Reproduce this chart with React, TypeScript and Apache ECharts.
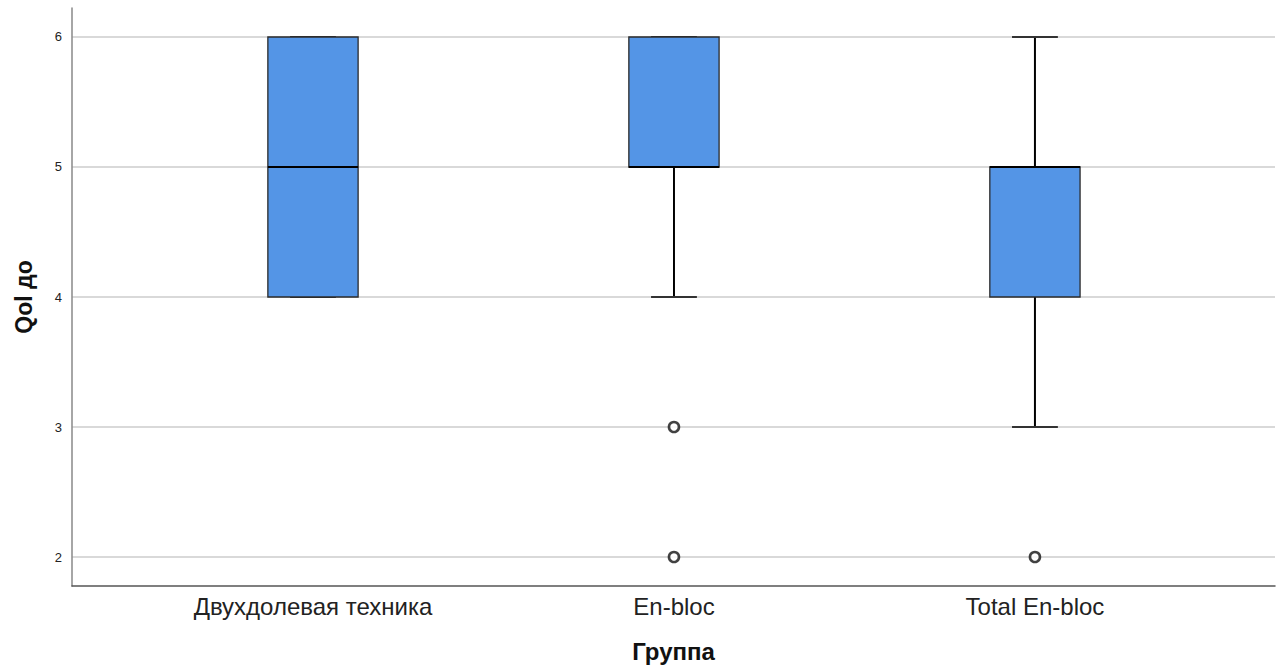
import React, { useEffect, useRef } from "react";
import * as echarts from "echarts";

// Groups along the x axis
const categories = ["Двухдолевая техника", "En-bloc", "Total En-bloc"];
// Five-number summaries per group: [min, Q1, median, Q3, max]
const whiskerLow = [4, 4, 3];
const quartile1 = [4, 5, 4];
const medians = [5, 5, 5];
const quartile3 = [6, 6, 5];
const whiskerHigh = [6, 6, 6];
// Outliers: [group index, value]
const outliers: [number, number][] = [
  [1, 3],
  [1, 2],
  [2, 2],
];

const FONT = "'Liberation Sans', Arial, sans-serif";

export default function App() {
  const ref = useRef<HTMLDivElement>(null);

  useEffect(() => {
    if (!ref.current) return;
    const chart = echarts.init(ref.current, undefined, { renderer: "svg" });

    const boxData = categories.map((_, i) => [
      i,
      whiskerLow[i],
      quartile1[i],
      medians[i],
      quartile3[i],
      whiskerHigh[i],
    ]);

    const renderBox = (params: any, api: any) => {
      const x = api.value(0);
      const pLow = api.coord([x, api.value(1)]);
      const pQ1 = api.coord([x, api.value(2)]);
      const pMed = api.coord([x, api.value(3)]);
      const pQ3 = api.coord([x, api.value(4)]);
      const pHigh = api.coord([x, api.value(5)]);
      const unit = api.size([1, 0])[0];
      const boxW = unit * 0.25;
      const capW = unit * 0.127;
      const cx = pMed[0];
      const children: any[] = [];
      // whiskers
      children.push({
        type: "line",
        shape: { x1: cx, y1: pQ3[1], x2: cx, y2: pHigh[1] },
        style: { stroke: "#000", lineWidth: 2 },
      });
      children.push({
        type: "line",
        shape: { x1: cx, y1: pQ1[1], x2: cx, y2: pLow[1] },
        style: { stroke: "#000", lineWidth: 2 },
      });
      // caps
      children.push({
        type: "line",
        shape: { x1: cx - capW / 2, y1: pHigh[1], x2: cx + capW / 2, y2: pHigh[1] },
        style: { stroke: "#333", lineWidth: 2 },
      });
      children.push({
        type: "line",
        shape: { x1: cx - capW / 2, y1: pLow[1], x2: cx + capW / 2, y2: pLow[1] },
        style: { stroke: "#333", lineWidth: 2 },
      });
      // box
      children.push({
        type: "rect",
        shape: { x: cx - boxW / 2, y: pQ3[1], width: boxW, height: pQ1[1] - pQ3[1] },
        style: { fill: "#5495E6", stroke: "#2b2b2b", lineWidth: 1.3 },
      });
      // median
      children.push({
        type: "line",
        shape: { x1: cx - boxW / 2, y1: pMed[1], x2: cx + boxW / 2, y2: pMed[1] },
        style: { stroke: "#000", lineWidth: 2.2 },
      });
      return { type: "group", children };
    };

    chart.setOption({
      animation: false,
      backgroundColor: "#ffffff",
      grid: { left: 72, right: 6, top: 8, bottom: 81, containLabel: false },
      xAxis: {
        type: "value",
        min: -0.6676,
        max: 2.665,
        name: "Группа",
        nameLocation: "middle",
        nameGap: 53,
        nameTextStyle: { fontFamily: FONT, fontSize: 24, fontWeight: "bold", color: "#111" },
        axisLine: { show: true, onZero: false, lineStyle: { color: "#555", width: 1.5 } },
        axisTick: { show: false, customValues: [0, 1, 2] },
        splitLine: { show: false },
        axisLabel: {
          customValues: [0, 1, 2],
          formatter: (v: number) => categories[Math.round(v)] ?? "",
          fontFamily: FONT,
          fontSize: 24,
          color: "#222",
          margin: 8,
        },
      },
      yAxis: {
        type: "value",
        min: 1.777,
        max: 6.223,
        name: "Qol до",
        nameLocation: "middle",
        nameGap: 37,
        nameTextStyle: { fontFamily: FONT, fontSize: 23, fontWeight: "bold", color: "#111" },
        axisLine: { show: true, onZero: false, lineStyle: { color: "#888", width: 1.5 } },
        axisTick: { show: false },
        axisLabel: {
          showMinLabel: false,
          showMaxLabel: false,
          fontFamily: FONT,
          fontSize: 13,
          color: "#222",
          margin: 10,
        },
        splitLine: {
          show: true,
          showMinLine: false,
          showMaxLine: false,
          lineStyle: { color: "#cccccc", width: 1.5 },
        },
      },
      series: [
        {
          type: "custom",
          data: boxData,
          encode: { x: 0, y: [1, 2, 3, 4, 5] },
          renderItem: renderBox,
          z: 2,
        },
        {
          type: "scatter",
          data: outliers,
          symbol: "circle",
          symbolSize: 10,
          itemStyle: { color: "#ffffff", borderColor: "#111", borderWidth: 2.6 },
          z: 3,
        },
      ],
    });

    return () => chart.dispose();
  }, []);

  return (
    <div
      ref={ref}
      style={{ position: "fixed", left: 0, top: 0, width: 1281, height: 668 }}
    />
  );
}
